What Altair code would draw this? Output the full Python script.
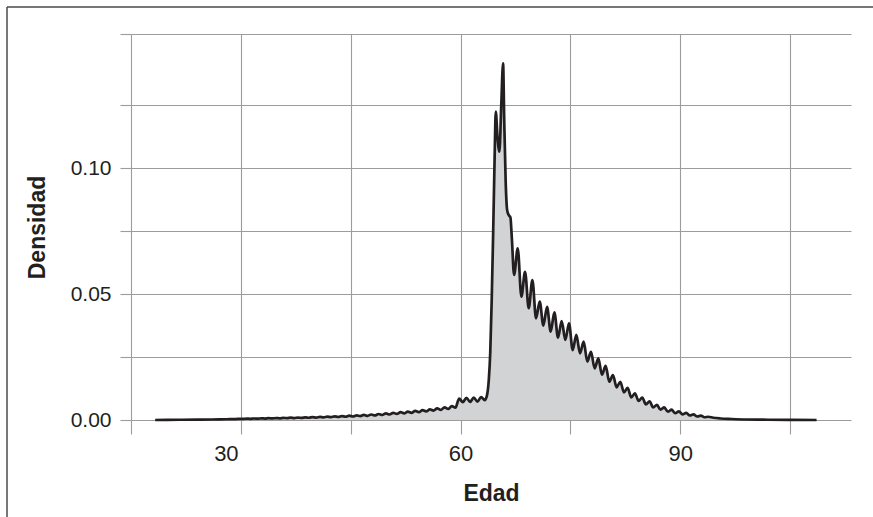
import altair as alt
import pandas as pd

# Age density (Edad vs Densidad)
edad = [
    18.3, 20.0, 22.0, 24.0, 26.0, 28.0,
    29.3, 29.8, 30.3, 30.8, 31.3, 31.8, 32.3, 32.8, 33.3, 33.8,
    34.3, 34.8, 35.3, 35.8, 36.3, 36.8, 37.3, 37.8, 38.3, 38.8,
    39.3, 39.8, 40.3, 40.8, 41.3, 41.8, 42.3, 42.8, 43.3, 43.8,
    44.3, 44.8, 45.3, 45.8, 46.3, 46.8, 47.3, 47.8, 48.3, 48.8,
    49.3, 49.8, 50.3, 50.8, 51.3, 51.8, 52.3, 52.8, 53.3, 53.8,
    54.3, 54.8, 55.3, 55.8, 56.3, 56.8, 57.3, 57.8, 58.3, 58.8,
    59.3, 59.8, 60.3, 60.8, 61.3, 61.8, 62.3, 62.8, 63.3, 63.6,
    63.85, 64.05, 64.25, 64.45, 64.65, 64.8, 65.05, 65.3, 65.55, 65.8,
    65.95, 66.15, 66.35, 66.55, 66.8, 67.0, 67.3, 67.8, 68.3, 68.8,
    69.3, 69.8, 70.3, 70.8, 71.3, 71.8, 72.3, 72.8, 73.3, 73.8,
    74.3, 74.8, 75.3, 75.8, 76.3, 76.8, 77.3, 77.8, 78.3, 78.8,
    79.3, 79.8, 80.3, 80.8, 81.3, 81.8, 82.3, 82.8, 83.3, 83.8,
    84.3, 84.8, 85.3, 85.8, 86.3, 86.8, 87.3, 87.8, 88.3, 88.8,
    89.3, 89.8, 90.3, 90.8, 91.3, 91.8, 92.3, 92.8, 93.3, 93.8,
    94.5, 95.5, 97.0, 99.0, 102.0, 105.0, 108.6,
]
densidad = [
    0.0, 0.00005, 0.0001, 0.00015, 0.0002, 0.0003,
    0.00035, 0.00048, 0.00042, 0.00055, 0.00048, 0.0006, 0.00053, 0.00066, 0.00058, 0.00072,
    0.00063, 0.00078, 0.00068, 0.00085, 0.00073, 0.00092, 0.00078, 0.00098, 0.00083, 0.00105,
    0.0009, 0.00115, 0.00097, 0.00125, 0.00105, 0.00135, 0.00112, 0.00145, 0.0012, 0.00157,
    0.0013, 0.0017, 0.0014, 0.00185, 0.00152, 0.002, 0.00165, 0.00218, 0.0018, 0.00238,
    0.00198, 0.0026, 0.00218, 0.00285, 0.0024, 0.0031, 0.00262, 0.00335, 0.00285, 0.0036,
    0.0031, 0.0039, 0.0034, 0.0042, 0.0037, 0.0046, 0.004, 0.005, 0.0044, 0.0055,
    0.0049, 0.0085, 0.0071, 0.0088, 0.0072, 0.0089, 0.0073, 0.0091, 0.0079, 0.0098,
    0.016, 0.027, 0.048, 0.075, 0.105, 0.1225, 0.112, 0.1066, 0.125, 0.1417,
    0.12, 0.095, 0.0835, 0.0815, 0.0805, 0.072, 0.0576, 0.0682, 0.049, 0.0589,
    0.0444, 0.0556, 0.0404, 0.047, 0.0375, 0.045, 0.0351, 0.0428, 0.0327, 0.0393,
    0.0318, 0.0384, 0.0278, 0.0338, 0.0265, 0.0311, 0.0232, 0.0271, 0.0205, 0.0245,
    0.018, 0.0215, 0.0152, 0.0178, 0.013, 0.0152, 0.011, 0.0128, 0.009, 0.0106,
    0.0076, 0.0089, 0.0062, 0.0074, 0.005, 0.006, 0.0041, 0.005, 0.0033, 0.0041,
    0.0027, 0.0034, 0.0022, 0.0028, 0.0018, 0.0022, 0.0014, 0.0017, 0.0011, 0.0013,
    0.0009, 0.0006, 0.0004, 0.0002, 0.0001, 0.00004, 0.0,
]

x_ticks = [15, 30, 45, 60, 75, 90, 105]
y_top = 0.15336
y_ticks = [0.0, 0.025, 0.05, 0.075, 0.1, 0.125, y_top]

df = pd.DataFrame({"edad": edad, "densidad": densidad})

FONT = "Liberation Sans, Arial, sans-serif"
GRID = "#9c9c9c"
INK = "#231f20"

x_enc = alt.X(
    "edad:Q",
    title="Edad",
    scale=alt.Scale(domain=[15, 113.3], nice=False, zero=False),
    axis=alt.Axis(
        values=x_ticks,
        labelExpr="datum.value == 30 || datum.value == 60 || datum.value == 90 ? datum.label : ''",
        labelOffset={"condition": {"test": "datum.value == 30", "value": -15}, "value": 0},
        domain=False,
        grid=True,
        gridColor=GRID,
        gridWidth=1.1,
        tickColor=GRID,
        tickWidth=1.1,
        tickSize=14,
        labelPadding=9,
        labelFont=FONT,
        labelFontSize=22,
        labelColor=INK,
        titleFont=FONT,
        titleFontSize=23,
        titleFontWeight="bold",
        titleColor=INK,
        titleY=73,
        titleBaseline="middle",
    ),
)

y_enc = alt.Y(
    "densidad:Q",
    title="Densidad",
    scale=alt.Scale(domain=[0, y_top], nice=False, zero=True),
    axis=alt.Axis(
        values=y_ticks,
        labelExpr="datum.value == 0 || datum.value == 0.05 || datum.value == 0.1 ? format(datum.value, '.2f') : ''",
        domain=False,
        grid=True,
        gridColor=GRID,
        gridWidth=1.1,
        tickColor=GRID,
        tickWidth=1.1,
        tickSize=11,
        labelPadding=9,
        labelFont=FONT,
        labelFontSize=21,
        labelColor=INK,
        titleFont=FONT,
        titleFontSize=23,
        titleFontWeight="bold",
        titleColor=INK,
        titleX=-94,
        titleBaseline="middle",
    ),
)

base = alt.Chart(df)

area = base.mark_area(color="#d1d3d4", interpolate="monotone").encode(x=x_enc, y=y_enc)
line = base.mark_line(color=INK, strokeWidth=2.7, interpolate="monotone").encode(
    x="edad:Q", y="densidad:Q"
)

# page frame: left and top border lines
frame_data = alt.Data(values=[{}])
frame_left = alt.Chart(frame_data).mark_rule(color="#4a4a4a", strokeWidth=1.5).encode(
    x=alt.value(-124), y=alt.value(-27), y2=alt.value(483)
)
frame_top = alt.Chart(frame_data).mark_rule(color="#4a4a4a", strokeWidth=1.5).encode(
    x=alt.value(-124), x2=alt.value(742), y=alt.value(-27)
)

chart = (
    alt.layer(area, line, frame_left, frame_top)
    .properties(
        width=720,
        height=386,
        padding={"left": 131, "top": 34, "right": 22, "bottom": 97},
        autosize=alt.AutoSizeParams(type="none"),
        background="white",
    )
    .configure_view(strokeWidth=0)
)

chart.save("out.html", embed_options={"renderer": "svg", "actions": False})
